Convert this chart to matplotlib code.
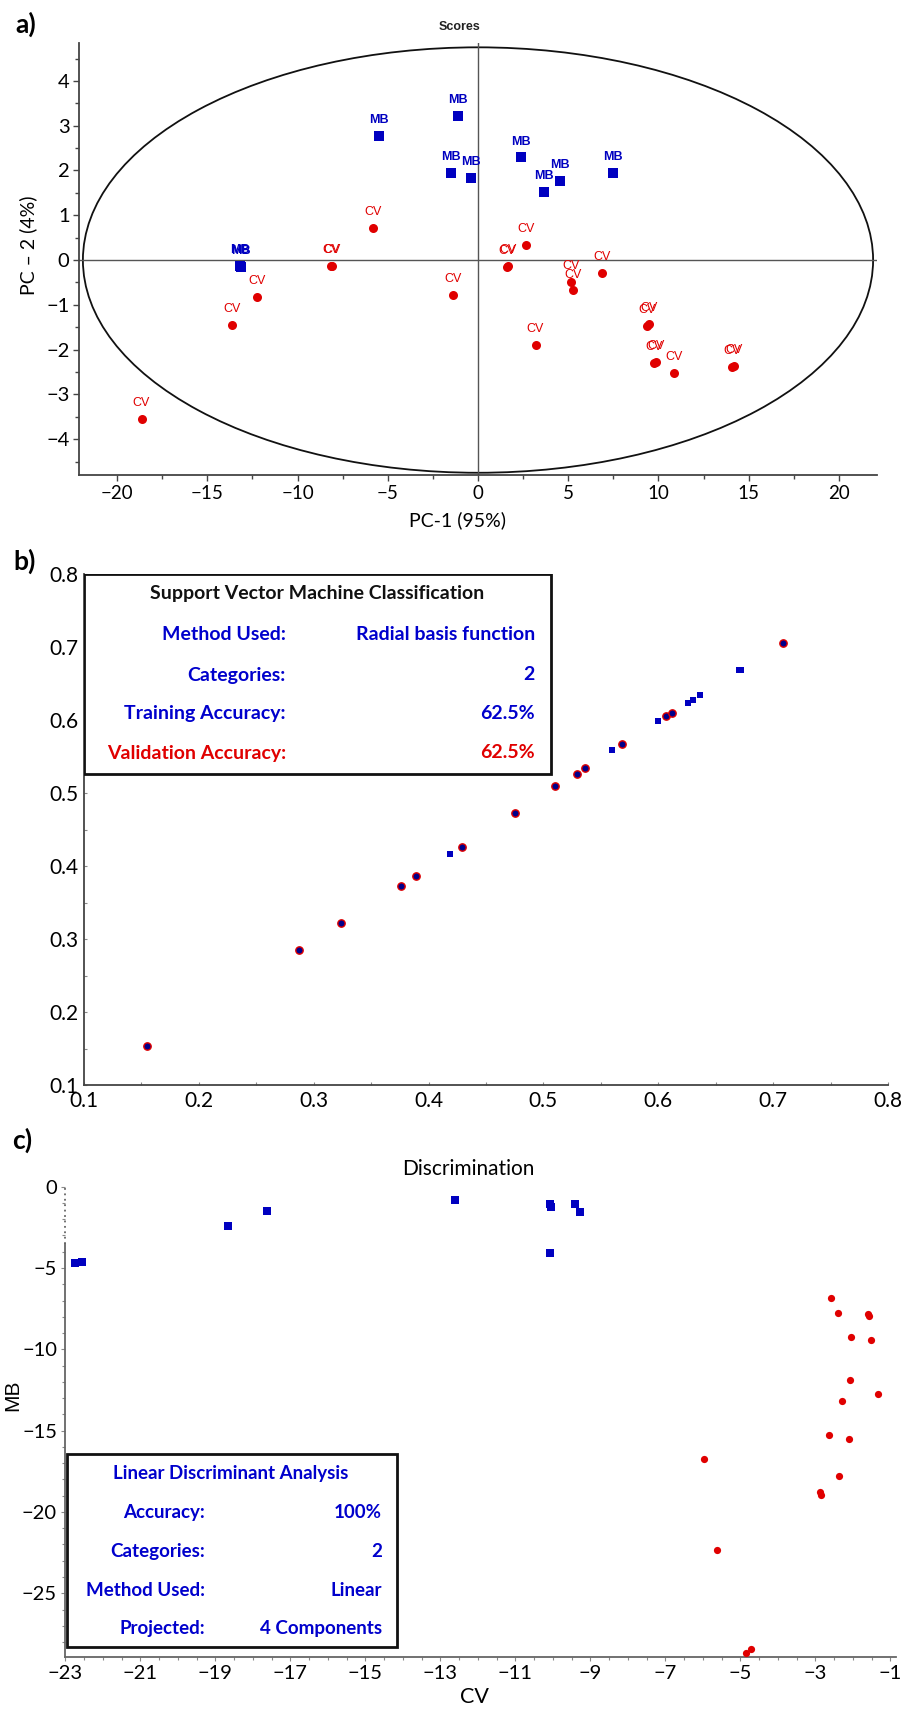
import matplotlib
matplotlib.use("Agg")
import matplotlib.pyplot as plt
from matplotlib.patches import Ellipse, Rectangle
from matplotlib.ticker import MultipleLocator

# ---------------- data ----------------
# a) PCA scores
a_mb_x = [-5.51, -1.09, -1.48, -0.37, 2.40, 3.66, 4.55, 7.46, -13.20, -13.12]
a_mb_y = [2.78, 3.21, 1.95, 1.84, 2.29, 1.51, 1.76, 1.94, -0.13, -0.15]
a_cv_x = [-5.84, -8.13, -8.08, -12.23, -13.64, -18.65, -1.39, 1.62, 1.67, 2.68,
          6.87, 5.18, 5.28, 3.19, 9.35, 9.50, 9.75, 9.88, 10.88, 14.10, 14.17]
a_cv_y = [0.72, -0.14, -0.13, -0.83, -1.45, -3.56, -0.77, -0.15, -0.14, 0.33,
          -0.28, -0.50, -0.68, -1.89, -1.47, -1.43, -2.29, -2.28, -2.52, -2.38, -2.36]
a_mb_label = "MB"
a_cv_label = "CV"

# b) SVM: circles (validated, red edge) and squares (training)
b_circ_x = [0.155, 0.287, 0.324, 0.376, 0.389, 0.429, 0.475, 0.510, 0.529, 0.536,
            0.568, 0.607, 0.612, 0.709]
b_circ_y = [0.154, 0.285, 0.322, 0.373, 0.386, 0.426, 0.473, 0.509, 0.526, 0.534,
            0.567, 0.606, 0.610, 0.706]
b_sq_x = [0.419, 0.560, 0.600, 0.626, 0.630, 0.636, 0.670, 0.672]
b_sq_y = [0.416, 0.559, 0.598, 0.623, 0.627, 0.634, 0.668, 0.669]
svm_rows = ["Method Used:", "Categories:", "Training Accuracy:", "Validation Accuracy:"]
svm_vals = ["Radial basis function", "2", "62.5%", "62.5%"]

# c) LDA discrimination
c_mb_x = [-22.75, -22.55, -18.67, -17.62, -12.62, -10.08, -10.05, -9.41, -9.29, -10.09]
c_mb_y = [-4.68, -4.62, -2.42, -1.47, -0.84, -1.06, -1.27, -1.04, -1.58, -4.05]
c_cv_x = [-2.58, -2.39, -1.60, -1.56, -2.04, -1.53, -2.07, -1.32, -2.29, -2.63,
          -2.10, -5.97, -2.37, -2.88, -2.84, -5.62, -4.73, -4.85]
c_cv_y = [-6.86, -7.76, -7.80, -7.94, -9.24, -9.42, -11.88, -12.76, -13.17, -15.24,
          -15.53, -16.74, -17.76, -18.80, -18.95, -22.35, -28.43, -28.66]
lda_rows = ["Accuracy:", "Categories:", "Method Used:", "Projected:"]
lda_vals = ["100%", "2", "Linear", "4 Components"]

# ---------------- style ----------------
W, H = 904, 1709
BLUE = "#0000c0"
TBLUE = "#0000cc"
RED = "#e00000"
GRAY = "#444444"
FONT = "Lato"
ARIAL = "Liberation Sans"

plt.rcParams["font.family"] = [FONT, "DejaVu Sans"]

fig = plt.figure(figsize=(W / 100, H / 100), dpi=100)


def ax_rect(x0, x1, y0, y1):
    return [x0 / W, 1 - y1 / H, (x1 - x0) / W, (y1 - y0) / H]


def fx(x):
    return x / W


def fy(y):
    return 1 - y / H

# ================= panel a =================
axa = fig.add_axes(ax_rect(79.3, 876.7, 43.3, 475))
axa.set_xlim(-22.1, 22.1)
axa.set_ylim(-4.8, 4.84)
for s in ["top", "right"]:
    axa.spines[s].set_visible(False)
for s in ["left", "bottom"]:
    axa.spines[s].set_color(GRAY)
    axa.spines[s].set_linewidth(1.3)
axa.xaxis.set_major_locator(MultipleLocator(5))
axa.xaxis.set_minor_locator(MultipleLocator(2.5))
axa.yaxis.set_major_locator(MultipleLocator(1))
axa.yaxis.set_minor_locator(MultipleLocator(0.5))
axa.tick_params(which="both", direction="out", color=GRAY, width=1)
axa.tick_params(axis="x", labelsize=13.5)
axa.tick_params(axis="y", labelsize=14.5)
axa.tick_params(which="major", length=4, pad=3)
axa.tick_params(which="minor", length=3)
axa.axhline(0, color="#555555", lw=1)
axa.axvline(0, color="#555555", lw=1)
axa.add_patch(Ellipse((0, 0), 43.8, 9.5, fill=False, ec="#111111", lw=1.3))
axa.plot(a_mb_x, a_mb_y, "s", color=BLUE, ms=7, mew=0, zorder=3)
axa.plot(a_cv_x, a_cv_y, "o", color=RED, ms=6.5, mew=0, zorder=3)
for x, y in zip(a_mb_x, a_mb_y):
    axa.annotate(a_mb_label, (x, y), xytext=(0, 11.5), textcoords="offset points",
                 ha="center", va="center", color=BLUE, fontsize=9,
                 family=ARIAL, fontweight="bold")
for x, y in zip(a_cv_x, a_cv_y):
    axa.annotate(a_cv_label, (x, y), xytext=(0, 11.5), textcoords="offset points",
                 ha="center", va="center", color=RED, fontsize=9, family=ARIAL)
fig.text(fx(460), fy(27), "Scores", ha="center", va="center", fontsize=9,
         family=ARIAL, fontweight="bold", color="#222222")
fig.text(fx(458), fy(520), "PC-1 (95%)", ha="center", va="center", fontsize=14)
fig.text(fx(28), fy(245), "PC \u2013 2 (4%)", ha="center", va="center", fontsize=14,
         rotation=90)
fig.text(fx(26), fy(24), "a)", ha="center", va="center", fontsize=19, fontweight="bold")

# ================= panel b =================
axb = fig.add_axes(ax_rect(84, 888, 574, 1085))
axb.set_xlim(0.1, 0.8)
axb.set_ylim(0.1, 0.8)
for s in ["top", "right"]:
    axb.spines[s].set_visible(False)
for s in ["left", "bottom"]:
    axb.spines[s].set_color(GRAY)
    axb.spines[s].set_linewidth(1.3)
axb.xaxis.set_major_locator(MultipleLocator(0.1))
axb.xaxis.set_minor_locator(MultipleLocator(0.05))
axb.yaxis.set_major_locator(MultipleLocator(0.1))
axb.yaxis.set_minor_locator(MultipleLocator(0.05))
axb.tick_params(which="both", direction="in", color="#888888", width=0.8, labelsize=15)
axb.tick_params(which="major", length=2, pad=4)
axb.tick_params(which="minor", length=2)
axb.set_xticks([0.1, 0.2, 0.3, 0.4, 0.5, 0.6, 0.7, 0.8])
axb.set_xticklabels(["0.1", "0.2", "0.3", "0.4", "0.5", "0.6", "0.7", "0.8"])
axb.set_yticks([0.1, 0.2, 0.3, 0.4, 0.5, 0.6, 0.7, 0.8])
axb.set_yticklabels(["0.1", "0.2", "0.3", "0.4", "0.5", "0.6", "0.7", "0.8"])
axb.plot(b_sq_x, b_sq_y, "s", color=BLUE, ms=5, mew=0, zorder=3)
axb.plot(b_circ_x, b_circ_y, "o", mfc="#00008a", mec=RED, ms=5.3, mew=1.0, zorder=4)

# info box b
axb.add_patch(Rectangle((fx(84), fy(773.5)), fx(551) - fx(84), fy(573.5) - fy(773.5),
                        transform=fig.transFigure, fill=True, fc="white", ec="#111111",
                        lw=2, zorder=5))
fig.text(fx(317), fy(593), "Support Vector Machine Classification", ha="center",
         va="center", fontsize=14, fontweight="bold", color="#111111", zorder=6)
rows_y = [634, 675, 714, 753]
for i, (lab, val) in enumerate(zip(svm_rows, svm_vals)):
    col = RED if i == 3 else TBLUE
    fig.text(fx(286), fy(rows_y[i]), lab, ha="right", va="center", fontsize=14,
             fontweight="bold", color=col)
    fig.text(fx(535), fy(rows_y[i]), val, ha="right", va="center", fontsize=14,
             fontweight="bold", color=col)
fig.text(fx(25), fy(561), "b)", ha="center", va="center", fontsize=19, fontweight="bold")

# ================= panel c =================
axc = fig.add_axes(ax_rect(65.4, 896, 1183.4, 1656.7))
axc.set_xlim(-23, -0.85)
axc.set_ylim(-28.9, 0.2)
for s in ["top", "right"]:
    axc.spines[s].set_visible(False)
axc.spines["bottom"].set_color("#666666")
axc.spines["bottom"].set_linewidth(1.3)
axc.spines["left"].set_color("#666666")
axc.spines["left"].set_linewidth(1.3)
axc.spines["left"].set_bounds(-28.9, -3.5)
axc.plot([-23, -23], [-3.5, 0.0], color="#666666", lw=1.3, ls=(0, (1, 2)),
         clip_on=False)
axc.xaxis.set_major_locator(MultipleLocator(2))
axc.xaxis.set_minor_locator(MultipleLocator(0.5))
axc.yaxis.set_major_locator(MultipleLocator(5))
axc.yaxis.set_minor_locator(MultipleLocator(1))
axc.set_xticks(list(range(-23, 0, 2)))
axc.set_yticks([0, -5, -10, -15, -20, -25])
axc.tick_params(which="both", direction="out", color="#888888", width=0.8, labelsize=14.5)
axc.tick_params(which="major", length=3, pad=3)
axc.tick_params(which="minor", length=2)
axc.plot(c_mb_x, c_mb_y, "s", color=BLUE, ms=5.2, mew=0, zorder=3)
axc.plot(c_cv_x, c_cv_y, "o", color=RED, ms=5.2, mew=0, zorder=3)

axc.add_patch(Rectangle((fx(66.5), fy(1647.3)), fx(397) - fx(66.5), fy(1454) - fy(1647.3),
                        transform=fig.transFigure, fill=True, fc="white", ec="#111111",
                        lw=2, zorder=5))
fig.text(fx(231), fy(1474), "Linear Discriminant Analysis", ha="center", va="center",
         fontsize=13.5, fontweight="bold", color=TBLUE)
rows_y = [1512.7, 1551.7, 1590, 1628.3]
for i, (lab, val) in enumerate(zip(lda_rows, lda_vals)):
    fig.text(fx(205), fy(rows_y[i]), lab, ha="right", va="center", fontsize=13.5,
             fontweight="bold", color=TBLUE)
    fig.text(fx(382), fy(rows_y[i]), val, ha="right", va="center", fontsize=13.5,
             fontweight="bold", color=TBLUE)

fig.text(fx(468), fy(1169), "Discrimination", ha="center", va="center", fontsize=15)
fig.text(fx(13), fy(1395), "MB", ha="center", va="center", fontsize=15, family=ARIAL,
         rotation=90)
fig.text(fx(474), fy(1697), "CV", ha="center", va="center", fontsize=15.5)
fig.text(fx(22), fy(1140), "c)", ha="center", va="center", fontsize=19, fontweight="bold")

fig.savefig("out.png", dpi=100)
